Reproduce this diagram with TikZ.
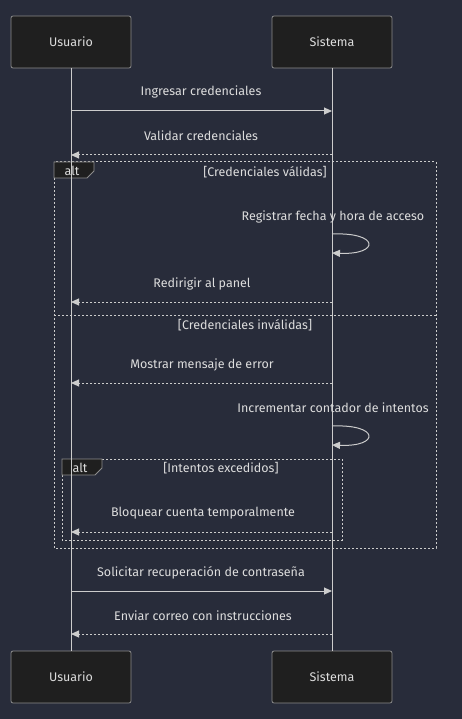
\documentclass[tikz,border=0pt]{standalone}
\usepackage{fontspec}
\setmainfont{Fira Sans}
\usetikzlibrary{arrows.meta}
\definecolor{bgcol}{RGB}{40,44,58}
\definecolor{actorfill}{RGB}{31,31,31}
\definecolor{actorline}{RGB}{140,140,140}
\definecolor{linecol}{RGB}{204,204,204}
\definecolor{textcol}{RGB}{221,221,221}
\begin{document}
\begin{tikzpicture}
        [x=1pt, y=-1pt,
        actor/.style={draw=actorline, fill=actorfill, rounded corners=2pt, minimum width=120pt, minimum height=52pt, text=textcol, font=\fontsize{12.5}{15}\selectfont, line width=0.8pt},
        lifeline/.style={linecol, line width=1pt},
        msg/.style={linecol, line width=1pt, -{Triangle[length=8pt, width=7pt]}},
        reply/.style={msg, dash pattern=on 2pt off 2pt},
        label/.style={text=textcol, font=\fontsize{12.5}{15}\selectfont, inner sep=0pt},
        frame/.style={linecol, line width=1pt, dash pattern=on 2pt off 2pt},
        altbox/.style={draw=actorline, fill=actorfill, line width=0.8pt}]

        % background and canvas
        \fill[bgcol] (0,0) rectangle (462,719);
        \useasboundingbox (0,0) rectangle (462,719);

        % alt frames
        \draw[frame] (54,162) rectangle (436,548);
        \draw[frame] (54,315) -- (436,315);
        \draw[altbox] (54,162) -- (94,162) -- (94,171) -- (87,178) -- (54,178) -- cycle;
        \node[label] (alt1) at (72,171) {alt};
        \node[label] (cond1) at (265,172) {[Credenciales válidas]};
        \node[label] (cond2) at (245,325) {[Credenciales inválidas]};

        \draw[frame] (62,459) rectangle (342,540);
        \draw[altbox] (62,459) -- (102,459) -- (102,468) -- (95,475) -- (62,475) -- cycle;
        \node[label] (alt2) at (80,468) {alt};
        \node[label] (cond3) at (221,468) {[Intentos excedidos]};

        % actors
        \node[actor] (usrTop) at (71,42) {Usuario};
        \node[actor] (sisTop) at (332,42) {Sistema};
        \node[actor] (usrBot) at (71,677) {Usuario};
        \node[actor] (sisBot) at (332,677) {Sistema};

        % lifelines
        \draw[lifeline] (usrTop) -- (usrBot);
        \draw[lifeline] (sisTop) -- (sisBot);

        % message end points
        \foreach \n/\y in {1/111, 2/155, 5/302, 8/383, 11/532, 12/591, 13/634} {
            \coordinate (u\n) at (71,\y);
            \coordinate (s\n) at (332,\y);
        }
        \coordinate (r4a) at (332,234);
        \coordinate (r4b) at (332,253);
        \coordinate (r9a) at (332,426);
        \coordinate (r9b) at (332,445);

        % messages
        \node[label] (m1) at (201,92) {Ingresar credenciales};
        \draw[msg] (u1) -- (s1);
        \node[label] (m2) at (201,136) {Validar credenciales};
        \draw[reply] (s2) -- (u2);
        \node[label] (m4) at (333,217) {Registrar fecha y hora de acceso};
        \draw[msg] (r4a) .. controls (380,232) and (380,255) .. (r4b);
        \node[label] (m5) at (202,284) {Redirigir al panel};
        \draw[reply] (s5) -- (u5);
        \node[label] (m8) at (202,365) {Mostrar mensaje de error};
        \draw[reply] (s8) -- (u8);
        \node[label] (m9) at (333,408) {Incrementar contador de intentos};
        \draw[msg] (r9a) .. controls (380,424) and (380,447) .. (r9b);
        \node[label] (m11) at (203,513) {Bloquear cuenta temporalmente};
        \draw[reply] (s11) -- (u11);
        \node[label] (m12) at (201,573) {Solicitar recuperación de contraseña};
        \draw[msg] (u12) -- (s12);
        \node[label] (m13) at (203,616) {Enviar correo con instrucciones};
        \draw[reply] (s13) -- (u13);

        \end{tikzpicture}
\end{document}
